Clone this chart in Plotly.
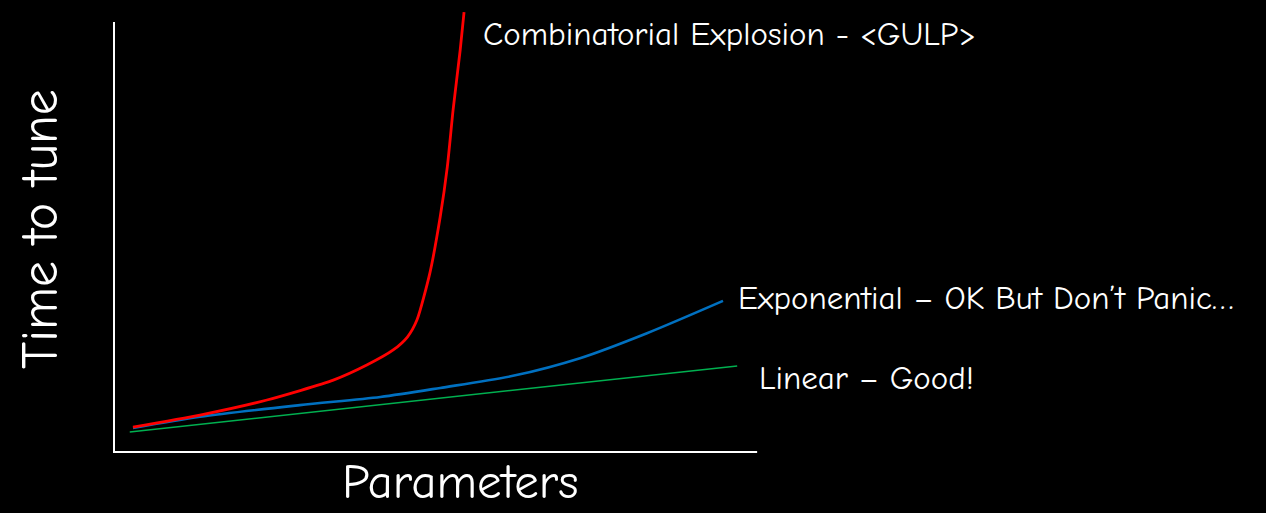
import plotly.graph_objects as go

# Data (arbitrary units: Parameters on x, Time to tune on y)
red_x = [0.31, 1.35, 2.39, 3.42, 3.94, 4.35, 4.57, 4.72, 4.92, 5.08, 5.19, 5.28, 5.39, 5.45]
red_y = [0.60, 0.88, 1.23, 1.69, 2.04, 2.39, 2.69, 3.09, 4.18, 5.48, 6.64, 7.96, 9.35, 10.23]

blue_x = [0.31, 1.35, 2.90, 4.15, 5.08, 6.21, 7.25, 8.29, 9.47]
blue_y = [0.58, 0.84, 1.11, 1.30, 1.51, 1.79, 2.20, 2.78, 3.53]

green_x = [0.26, 9.69]
green_y = [0.49, 2.02]

labels = ["Combinatorial Explosion - <GULP>",
          "Exponential \u2013 OK But Don\u2019t Panic\u2026",
          "Linear \u2013 Good!"]
x_title = "Parameters"
y_title = "Time to tune"

FONT = "Comic Sans MS, Comic Neue, Noto Sans, sans-serif"

fig = go.Figure()
fig.add_trace(go.Scatter(x=green_x, y=green_y, mode="lines",
                         line=dict(color="#00B050", width=1.5)))
fig.add_trace(go.Scatter(x=blue_x, y=blue_y, mode="lines",
                         line=dict(color="#0070C0", width=2.6, shape="spline", smoothing=0.8)))
fig.add_trace(go.Scatter(x=red_x, y=red_y, mode="lines",
                         line=dict(color="#FF0000", width=2.8, shape="spline", smoothing=0.6)))

# axis lines (drawn as shapes, the red curve overshoots the top of the y axis)
fig.add_shape(type="line", x0=0, x1=0, y0=0, y1=10.0, xref="x", yref="y",
              line=dict(color="white", width=4))
fig.add_shape(type="line", x0=-0.03, x1=10.0, y0=0, y1=0, xref="x", yref="y",
              line=dict(color="white", width=4))

ann_font = dict(family=FONT, size=33, color="white")
fig.add_annotation(x=5.71, y=9.72, text=labels[0], showarrow=False,
                   xanchor="left", yanchor="middle", font=ann_font)
fig.add_annotation(x=9.67, y=3.60, text=labels[1], showarrow=False,
                   xanchor="left", yanchor="middle", font=ann_font)
fig.add_annotation(x=10.0, y=1.74, text=labels[2], showarrow=False,
                   xanchor="left", yanchor="middle", font=ann_font)
# axis titles in paper coordinates (plot area spans x 113..1266 px, y 0..453 px)
fig.add_annotation(x=(460 - 113) / 1153, y=-(482 - 453) / 453, xref="paper", yref="paper",
                   text=x_title, showarrow=False, xanchor="center", yanchor="middle",
                   font=dict(family=FONT, size=49, color="white"))
fig.add_annotation(x=-(113 - 40) / 1153, y=(453 - 229) / 453, xref="paper", yref="paper",
                   text=y_title, showarrow=False, textangle=-90,
                   xanchor="center", yanchor="middle",
                   font=dict(family=FONT, size=52, color="white"))

fig.update_xaxes(range=[0, 17.90], visible=False, fixedrange=True)
fig.update_yaxes(range=[0, 10.51], visible=False, fixedrange=True)
fig.update_layout(width=1266, height=513,
                  margin=dict(l=113, r=0, t=0, b=60),
                  paper_bgcolor="black", plot_bgcolor="black",
                  showlegend=False)

fig.write_html("out.html", config={"displayModeBar": False},
               post_script="document.body.style.margin='0';document.body.style.background='black';")
